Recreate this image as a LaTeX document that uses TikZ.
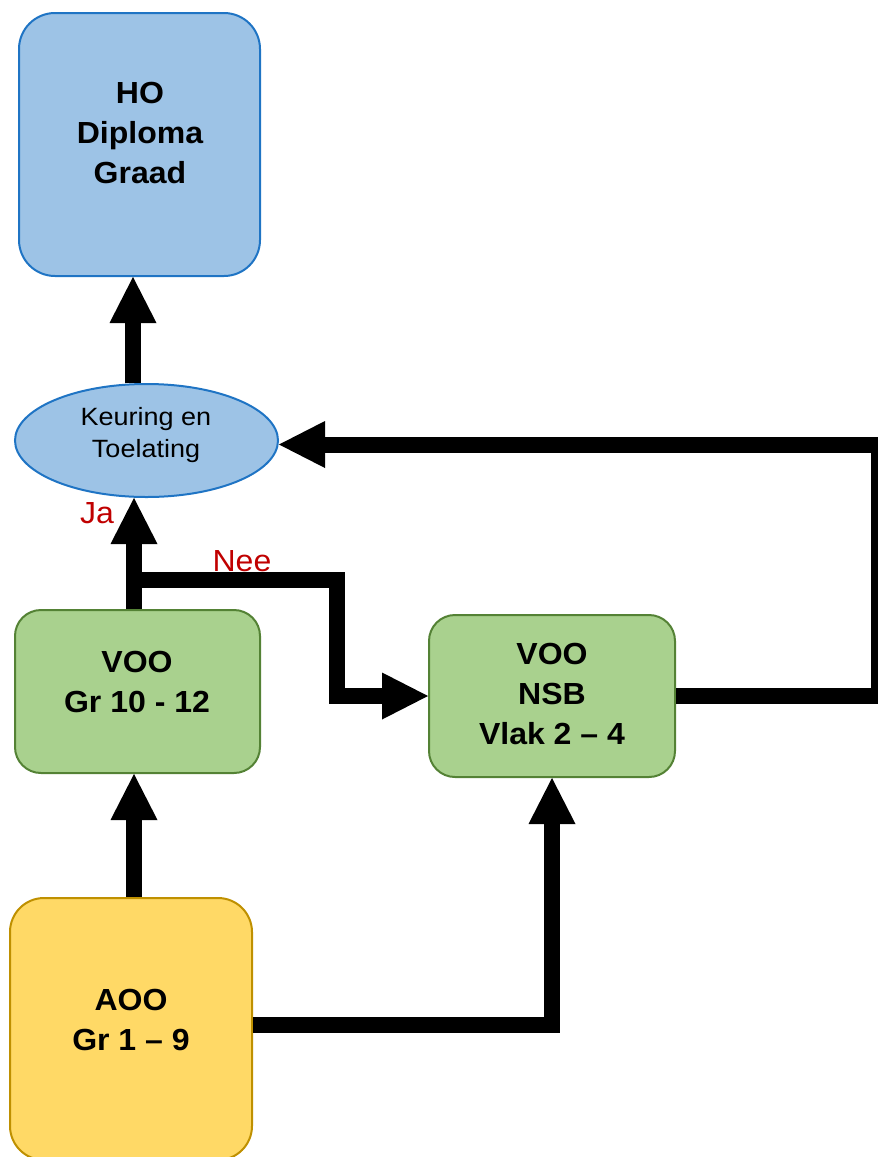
\documentclass[tikz,border=0pt]{standalone}
\usepackage{fontspec}
\setmainfont{Liberation Sans}
\newfontfamily\wideSans[FakeStretch=1.05]{Liberation Sans}
\newfontfamily\widerSans[FakeStretch=1.08]{Liberation Sans}
\usetikzlibrary{arrows.meta,shapes.geometric}

\definecolor{blueFill}{HTML}{9DC3E6}
\definecolor{blueLine}{HTML}{1F74C4}
\definecolor{greenFill}{HTML}{A9D18E}
\definecolor{greenLine}{HTML}{548235}
\definecolor{yellowFill}{HTML}{FFD966}
\definecolor{yellowLine}{HTML}{BF9000}
\definecolor{answerRed}{HTML}{C00000}

\tikzset{
  box/.style={rectangle, draw, line width=2pt, inner sep=0pt},
  bluebox/.style={box, fill=blueFill, draw=blueLine, rounded corners=36pt},
  greenbox/.style={box, fill=greenFill, draw=greenLine, rounded corners=26pt},
  yellowbox/.style={box, fill=yellowFill, draw=yellowLine, rounded corners=34pt},
  oval/.style={ellipse, draw=blueLine, fill=blueFill, line width=2pt, inner sep=0pt},
  % multi-line labels: the base anchor sits on the last line's baseline
  boxtext/.style={anchor=base, align=center, inner sep=0pt,
    font=\wideSans\fontsize{30.5}{40}\selectfont\bfseries},
  ovaltext/.style={anchor=base, align=center, inner sep=0pt,
    font=\widerSans\fontsize{25}{32}\selectfont},
  answer/.style={anchor=base, inner sep=0pt, text=answerRed,
    font=\wideSans\fontsize{30.5}{34}\selectfont},
  bigarrow/.style={line width=16pt, line join=miter,
    -{Triangle[length=46pt,width=47pt,line width=0pt]}},
}

\begin{document}
\begin{tikzpicture}[x=1pt,y=-1pt]
\useasboundingbox (0,0) rectangle (878,1157);
\clip (0,0) rectangle (878,1157);

% boxes
\node[bluebox, minimum width=241pt, minimum height=263pt] (ho) at (139.5,144.5) {};
\node[oval, minimum width=263pt, minimum height=113pt] (ell) at (146.5,440.5) {};
\node[greenbox, minimum width=245pt, minimum height=163pt] (vgr) at (137.5,691.5) {};
\node[greenbox, minimum width=246pt, minimum height=162pt] (nsb) at (552,696) {};
\node[yellowbox, minimum width=242pt, minimum height=262pt] (aoo) at (131,1029) {};

% box texts
\node[boxtext] (hotxt) at (140,183) {HO\\Diploma\\Graad};
\node[ovaltext] (elltxt) at (146,457) {Keuring en\\Toelating};
\node[boxtext] (vgrtxt) at (137,712) {VOO\\Gr 10 - 12};
\node[boxtext] (nsbtxt) at (552,744) {VOO\\NSB\\Vlak 2 – 4};
\node[boxtext] (aootxt) at (131,1050) {AOO\\Gr 1 – 9};

% answers
\node[answer] (ja) at (97,523) {Ja};
\node[answer] (nee) at (242,571) {Nee};

% connectors
\coordinate (split) at (134,580);
\coordinate (loopR) at (879,444.5);

\draw[bigarrow] ([xshift=-13.5pt]ell.north) -- ([xshift=-13.5pt]ell.north |- ho.south);
\draw[bigarrow] ([xshift=-3.5pt]vgr.north) -- ([xshift=-3.5pt]vgr.north |- ell.south);
\draw[bigarrow] (split) -| ([xshift=-91pt]nsb.west) -- (nsb.west);
\draw[bigarrow] (nsb.east) -- (nsb.east -| loopR) |- ([yshift=-4pt]ell.east);
\draw[bigarrow] ([xshift=3pt]aoo.north) -- ([xshift=3pt]aoo.north |- vgr.south);
\draw[bigarrow] ([yshift=4pt]aoo.east) -| (nsb.south);
\end{tikzpicture}
\end{document}
